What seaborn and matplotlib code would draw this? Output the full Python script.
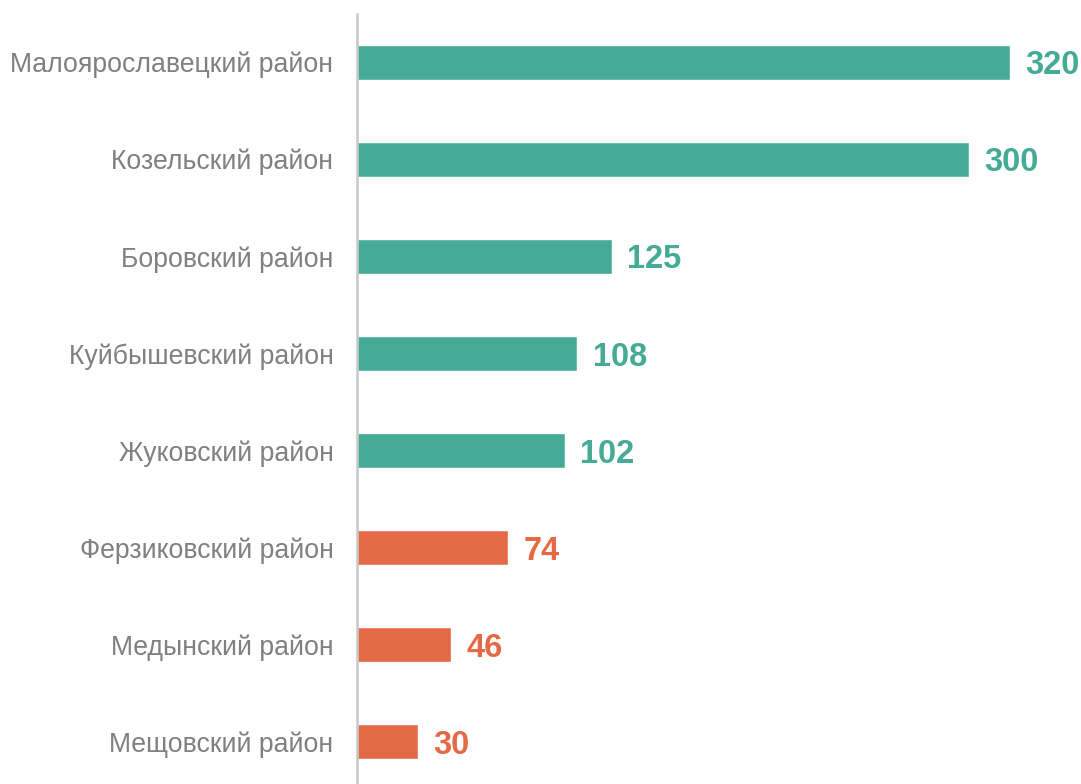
import matplotlib
matplotlib.use("Agg")
import matplotlib.pyplot as plt
import seaborn as sns
import pandas as pd

districts = [
    "Малоярославецкий район",
    "Козельский район",
    "Боровский район",
    "Куйбышевский район",
    "Жуковский район",
    "Ферзиковский район",
    "Медынский район",
    "Мещовский район",
]
values = [320, 300, 125, 108, 102, 74, 46, 30]
groups = ["high", "high", "high", "high", "high", "low", "low", "low"]

TEAL = "#45AB97"
ORANGE = "#E46A45"
palette = {"high": TEAL, "low": ORANGE}

df = pd.DataFrame({"district": districts, "value": values, "group": groups})

sns.set_style("white")
plt.rcParams["font.family"] = ["Liberation Sans", "DejaVu Sans"]

fig = plt.figure(figsize=(10.81, 7.84), dpi=100)
ax = fig.add_axes([357 / 1081, -6.5 / 784, 1 - 357 / 1081, 777 / 784])

sns.barplot(data=df, x="value", y="district", hue="group", palette=palette,
            dodge=False, legend=False, width=0.36, saturation=1, ax=ax,
            order=districts)

# value labels, digits centred on the bar
for i, (v, g) in enumerate(zip(values, groups)):
    ax.text(v + 7.5, i + 0.125, str(v), va="baseline", ha="left", fontsize=23.5,
            fontweight="bold", color=palette[g])

ax.set_xlim(0, 355)
ax.set_ylim(7.5, -0.5)
ax.set_xlabel("")
ax.set_ylabel("")
ax.set_xticks([])
ax.tick_params(axis="y", length=0, pad=17, labelsize=19.2, labelcolor="#808080")
for s in ["top", "right", "bottom"]:
    ax.spines[s].set_visible(False)
ax.spines["left"].set_color("#C8C8C8")
ax.spines["left"].set_linewidth(1.8)

fig.savefig("out.png", dpi=100)
